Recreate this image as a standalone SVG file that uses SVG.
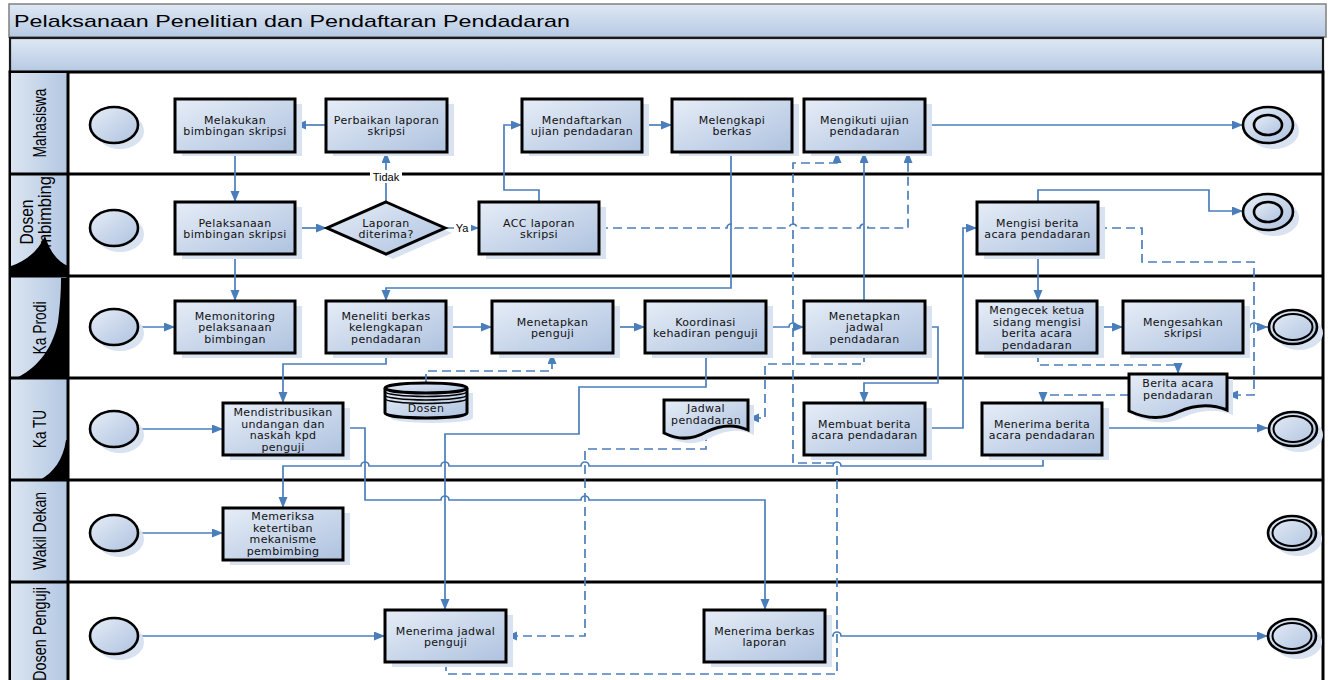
<svg xmlns="http://www.w3.org/2000/svg" width="1330" height="680" viewBox="0 0 1330 680">
<style>
.bar{stroke-width:1.5}
.box{fill:url(#gBox);stroke:#000;stroke-width:3}
.sh{fill:#d9e2f0}
.ev{fill:url(#gBox);stroke:#000;stroke-width:2.6}
.t{font-family:"DejaVu Sans",Verdana,sans-serif;font-size:11px;letter-spacing:0.35px;fill:#111;text-anchor:middle}
.lbl{font-family:"Liberation Sans",Arial,sans-serif;font-size:11px;fill:#000;text-anchor:middle}
.lane{font-family:"Liberation Sans",Arial,sans-serif;font-size:19px;fill:#000;text-anchor:middle}
.c{fill:none;stroke:#4a7ebb;stroke-width:1.7}
.d{fill:none;stroke:#4a7ebb;stroke-width:1.7;stroke-dasharray:9 5}
.art{fill:#000}
</style>
<defs>
<linearGradient id="gBox" x1="0" y1="0" x2="1" y2="1">
<stop offset="0" stop-color="#e6edf7"/><stop offset="1" stop-color="#aec2df"/>
</linearGradient>
<linearGradient id="gBar" x1="0" y1="0" x2="0" y2="1">
<stop offset="0" stop-color="#dfe8f4"/><stop offset="1" stop-color="#b6c9e3"/>
</linearGradient>
<linearGradient id="gHead" x1="0" y1="0" x2="1" y2="0">
<stop offset="0" stop-color="#dbe5f1"/><stop offset="1" stop-color="#b3c7e2"/>
</linearGradient>
<marker id="arr" markerUnits="userSpaceOnUse" markerWidth="12" markerHeight="10" refX="11" refY="4.5" orient="auto">
<path d="M0,0 L11,4.5 L0,9 Z" fill="#4a7ebb"/>
</marker>
<clipPath id="clipPb"><rect x="10" y="175" width="58" height="100"/></clipPath>
</defs>

<rect x="0" y="0" width="1330" height="680" fill="#fff"/>

<g id="pool">
<rect x="9" y="4" width="1317" height="33" fill="url(#gBar)" stroke="#808080" class="bar"/>
<text x="14" y="27" font-family="Liberation Sans, Arial, sans-serif" font-size="17" textLength="556" lengthAdjust="spacingAndGlyphs" fill="#000">Pelaksanaan Penelitian dan Pendaftaran Pendadaran</text>
<rect x="10" y="38" width="1313" height="34" fill="url(#gBar)" stroke="#1a1a1a" stroke-width="2.2"/>
</g>

<g id="lanes">
<rect x="10" y="72" width="1313" height="612" fill="#fff" stroke="#000" stroke-width="3"/>
<rect x="11" y="73" width="57" height="101" fill="url(#gHead)"/>
<rect x="11" y="175" width="57" height="101" fill="url(#gHead)"/>
<rect x="11" y="277" width="57" height="101" fill="url(#gHead)"/>
<rect x="11" y="379" width="57" height="101" fill="url(#gHead)"/>
<rect x="11" y="481" width="57" height="101" fill="url(#gHead)"/>
<rect x="11" y="583" width="57" height="100" fill="url(#gHead)"/>
<path class="art" d="M11,276 L11,266 C24,262 38,252 45,236 C50,252 58,262 68,266 L68,276 Z"/>
<path class="art" d="M61,278 L68,278 L68,378 L16,378 C34,370 52,352 58,322 C60,305 61,292 61,278 Z"/>
<path class="art" d="M68,440 L68,480 L40,480 C54,472 63,460 66,440 Z"/>
<g stroke="#000" stroke-width="3">
<line x1="10" y1="174" x2="1323" y2="174"/>
<line x1="10" y1="276" x2="1323" y2="276"/>
<line x1="10" y1="378" x2="1323" y2="378"/>
<line x1="10" y1="480" x2="1323" y2="480"/>
<line x1="10" y1="582" x2="1323" y2="582"/>
<line x1="68" y1="72" x2="68" y2="684"/>
</g>
<text class="lane" transform="translate(46,123) rotate(-90)" textLength="69" lengthAdjust="spacingAndGlyphs">Mahasiswa</text>
<g clip-path="url(#clipPb)">
<text class="lane" transform="translate(33,222) rotate(-90)" textLength="45" lengthAdjust="spacingAndGlyphs">Dosen</text>
<text class="lane" transform="translate(51,222) rotate(-90)" textLength="92" lengthAdjust="spacingAndGlyphs">Pembimbing</text>
</g>
<text class="lane" transform="translate(46,328) rotate(-90)" textLength="53" lengthAdjust="spacingAndGlyphs">Ka Prodi</text>
<text class="lane" transform="translate(46,429) rotate(-90)" textLength="38" lengthAdjust="spacingAndGlyphs">Ka TU</text>
<text class="lane" transform="translate(46,531) rotate(-90)" textLength="78" lengthAdjust="spacingAndGlyphs">Wakil Dekan</text>
<text class="lane" transform="translate(46,634) rotate(-90)" textLength="94" lengthAdjust="spacingAndGlyphs">Dosen Penguji</text>
</g>

<g id="connectors">
<path class="c" marker-end="url(#arr)" d="M326,125 H295"/>
<path class="c" marker-end="url(#arr)" d="M235,152 V202"/>
<path class="c" marker-end="url(#arr)" d="M295,228 H327"/>
<path class="c" marker-end="url(#arr)" d="M386,202 V152"/>
<path class="c" marker-end="url(#arr)" d="M445,228 H479"/>
<path class="c" marker-end="url(#arr)" d="M539,202 V190 H504 V125 H522"/>
<path class="c" marker-end="url(#arr)" d="M642,125 H672"/>
<path class="c" marker-end="url(#arr)" d="M731,152 V288 H386 V301"/>
<path class="c" marker-end="url(#arr)" d="M925,125 H1243"/>
<path class="c" marker-end="url(#arr)" d="M235,254 V301"/>
<path class="c" marker-end="url(#arr)" d="M138,327 H175"/>
<path class="c" marker-end="url(#arr)" d="M446,327 H492"/>
<path class="c" marker-end="url(#arr)" d="M613,327 H645"/>
<path class="c" marker-end="url(#arr)" d="M766,327 H789 a4,4 0 0 1 8,0 H804"/>
<path class="c" marker-end="url(#arr)" d="M864,301 V152"/>
<path class="c" marker-end="url(#arr)" d="M925,327 H938 V383 H864 V403"/>
<path class="c" marker-end="url(#arr)" d="M386,353 V364 H283 V403"/>
<path class="c" marker-end="url(#arr)" d="M706,353 V387 H579 V434 H445 V610"/>
<path class="c" marker-end="url(#arr)" d="M138,429 H223"/>
<path class="c" marker-end="url(#arr)" d="M343,428 H365 V500 H441 a4,4 0 0 1 8,0 H581 a4,4 0 0 1 8,0 H765 V610"/>
<path class="c" marker-end="url(#arr)" d="M925,428 H963 V228 H977"/>
<path class="c" marker-end="url(#arr)" d="M1038,202 V190 H1209 V211 H1243"/>
<path class="c" marker-end="url(#arr)" d="M1038,254 V301"/>
<path class="c" marker-end="url(#arr)" d="M1097,327 H1123"/>
<path class="c" marker-end="url(#arr)" d="M1243,327 H1250 a4,4 0 0 1 8,0 H1268"/>
<path class="c" marker-end="url(#arr)" d="M1102,428 H1268"/>
<path class="c" marker-end="url(#arr)" d="M1043,455 V466 H841 a4,4 0 0 0 -8,0 H589 a4,4 0 0 0 -8,0 H449 a4,4 0 0 0 -8,0 H369 a4,4 0 0 0 -8,0 H283 V508"/>
<path class="c" marker-end="url(#arr)" d="M138,533 H223"/>
<path class="c" marker-end="url(#arr)" d="M138,636 H385"/>
<path class="c" marker-end="url(#arr)" d="M825,636 H833 a4,4 0 0 1 8,0 H1268"/>
<path class="d" marker-end="url(#arr)" d="M599,228 H727 a4,4 0 0 1 8,0 H789 a4,4 0 0 1 8,0 H860 a4,4 0 0 1 8,0 H908 V152"/>
<path class="d" marker-end="url(#arr)" d="M446,662 V674 H837 V463 H793 V163 H837 V152"/>
<path class="d" marker-end="url(#arr)" d="M426,383 V371 H552 V353"/>
<path class="d" marker-end="url(#arr)" d="M864,353 V364 H765 V418 H748"/>
<path class="d" marker-end="url(#arr)" d="M706,432 V449 H585 V636 H506"/>
<path class="d" marker-end="url(#arr)" d="M1098,228 H1142 V262 H1254 V395 H1227"/>
<path class="d" marker-end="url(#arr)" d="M1038,353 V365 H1178 V374"/>
<path class="d" marker-end="url(#arr)" d="M1129,395 H1043 V403"/>
<rect x="370" y="170" width="32" height="13" fill="#fff"/>
<text class="lbl" x="386" y="181">Tidak</text>
<rect x="454" y="221" width="17" height="13" fill="#fff"/>
<text class="lbl" x="462" y="232">Ya</text>
</g>

<!-- start events -->
<g id="start_mhs"><ellipse class="sh" cx="120" cy="131" rx="24" ry="18"/><ellipse class="ev" cx="114" cy="125" rx="24" ry="18"/></g>
<g id="start_dp"><ellipse class="sh" cx="120" cy="234" rx="24" ry="18"/><ellipse class="ev" cx="114" cy="228" rx="24" ry="18"/></g>
<g id="start_kp"><ellipse class="sh" cx="120" cy="333" rx="24" ry="18"/><ellipse class="ev" cx="114" cy="327" rx="24" ry="18"/></g>
<g id="start_tu"><ellipse class="sh" cx="120" cy="435" rx="24" ry="18"/><ellipse class="ev" cx="114" cy="429" rx="24" ry="18"/></g>
<g id="start_wd"><ellipse class="sh" cx="120" cy="539" rx="24" ry="18"/><ellipse class="ev" cx="114" cy="533" rx="24" ry="18"/></g>
<g id="start_pj"><ellipse class="sh" cx="120" cy="642" rx="24" ry="18"/><ellipse class="ev" cx="114" cy="636" rx="24" ry="18"/></g>

<!-- end events -->
<g id="end_mhs"><ellipse class="sh" cx="1274" cy="131" rx="25" ry="18"/><ellipse class="ev" cx="1268" cy="125" rx="25" ry="18" stroke-width="3"/><ellipse class="ev" cx="1268" cy="125" rx="14" ry="10" stroke-width="3"/></g>
<g id="end_dp"><ellipse class="sh" cx="1274" cy="218" rx="25" ry="18"/><ellipse class="ev" cx="1268" cy="212" rx="25" ry="18" stroke-width="3"/><ellipse class="ev" cx="1268" cy="212" rx="14" ry="10" stroke-width="3"/></g>
<g id="end_kp"><ellipse class="sh" cx="1299" cy="333" rx="24" ry="17"/><ellipse class="ev" cx="1293" cy="327" rx="24" ry="17" stroke-width="3"/><ellipse cx="1293" cy="327" rx="19.5" ry="13" fill="none" stroke="#000" stroke-width="2"/></g>
<g id="end_tu"><ellipse class="sh" cx="1299" cy="435" rx="24" ry="17"/><ellipse class="ev" cx="1293" cy="429" rx="24" ry="17" stroke-width="3"/><ellipse cx="1293" cy="429" rx="19.5" ry="13" fill="none" stroke="#000" stroke-width="2"/></g>
<g id="end_wd"><ellipse class="sh" cx="1298" cy="539" rx="24" ry="17"/><ellipse class="ev" cx="1292" cy="533" rx="24" ry="17" stroke-width="3"/><ellipse cx="1292" cy="533" rx="19.5" ry="13" fill="none" stroke="#000" stroke-width="2"/></g>
<g id="end_pj"><ellipse class="sh" cx="1298" cy="642" rx="24" ry="17"/><ellipse class="ev" cx="1292" cy="636" rx="24" ry="17" stroke-width="3"/><ellipse cx="1292" cy="636" rx="19.5" ry="13" fill="none" stroke="#000" stroke-width="2"/></g>

<!-- Mahasiswa -->
<g id="n_melakukan"><rect class="sh" x="182" y="104" width="120" height="52"/><rect class="box" x="175" y="99" width="120" height="53"/><text class="t" x="235" y="123.5">Melakukan</text><text class="t" x="235" y="135">bimbingan skripsi</text></g>
<g id="n_perbaikan"><rect class="sh" x="333" y="104" width="121" height="52"/><rect class="box" x="326" y="99" width="121" height="53"/><text class="t" x="386.5" y="123.5">Perbaikan laporan</text><text class="t" x="386.5" y="135">skripsi</text></g>
<g id="n_mendaftarkan"><rect class="sh" x="529" y="104" width="120" height="52"/><rect class="box" x="522" y="99" width="120" height="53"/><text class="t" x="582" y="123.5">Mendaftarkan</text><text class="t" x="582" y="135">ujian pendadaran</text></g>
<g id="n_melengkapi"><rect class="sh" x="679" y="104" width="120" height="52"/><rect class="box" x="672" y="99" width="120" height="53"/><text class="t" x="732" y="123.5">Melengkapi</text><text class="t" x="732" y="135">berkas</text></g>
<g id="n_mengikuti"><rect class="sh" x="811" y="104" width="121" height="52"/><rect class="box" x="804" y="99" width="121" height="53"/><text class="t" x="864.5" y="123.5">Mengikuti ujian</text><text class="t" x="864.5" y="135">pendadaran</text></g>

<!-- Dosen Pembimbing -->
<g id="n_pelaksanaan"><rect class="sh" x="182" y="207" width="120" height="52"/><rect class="box" x="175" y="202" width="120" height="52"/><text class="t" x="235" y="226.5">Pelaksanaan</text><text class="t" x="235" y="238">bimbingan skripsi</text></g>
<g id="n_laporan"><polygon class="sh" points="393,207 452,233 393,259 334,233"/><polygon class="box" points="386,202 445,228 386,254 327,228"/><text class="t" x="386" y="226.5">Laporan</text><text class="t" x="386" y="238">diterima?</text></g>
<g id="n_acc"><rect class="sh" x="486" y="207" width="120" height="52"/><rect class="box" x="479" y="202" width="120" height="52"/><text class="t" x="539" y="226.5">ACC laporan</text><text class="t" x="539" y="238">skripsi</text></g>
<g id="n_mengisi"><rect class="sh" x="984" y="207" width="121" height="52"/><rect class="box" x="977" y="202" width="121" height="52"/><text class="t" x="1037.5" y="226.5">Mengisi berita</text><text class="t" x="1037.5" y="238">acara pendadaran</text></g>

<!-- Ka Prodi -->
<g id="n_memonitoring"><rect class="sh" x="182" y="306" width="120" height="52"/><rect class="box" x="175" y="301" width="120" height="52"/><text class="t" x="235" y="319.5">Memonitoring</text><text class="t" x="235" y="331">pelaksanaan</text><text class="t" x="235" y="342.5">bimbingan</text></g>
<g id="n_meneliti"><rect class="sh" x="333" y="306" width="120" height="52"/><rect class="box" x="326" y="301" width="120" height="52"/><text class="t" x="386" y="319.5">Meneliti berkas</text><text class="t" x="386" y="331">kelengkapan</text><text class="t" x="386" y="342.5">pendadaran</text></g>
<g id="n_menetapkan_penguji"><rect class="sh" x="499" y="306" width="121" height="52"/><rect class="box" x="492" y="301" width="121" height="52"/><text class="t" x="552.5" y="325.5">Menetapkan</text><text class="t" x="552.5" y="337">penguji</text></g>
<g id="n_koordinasi"><rect class="sh" x="652" y="306" width="121" height="52"/><rect class="box" x="645" y="301" width="121" height="52"/><text class="t" x="705.5" y="325.5">Koordinasi</text><text class="t" x="705.5" y="337">kehadiran penguji</text></g>
<g id="n_menetapkan_jadwal"><rect class="sh" x="811" y="306" width="121" height="52"/><rect class="box" x="804" y="301" width="121" height="52"/><text class="t" x="864.5" y="319.5">Menetapkan</text><text class="t" x="864.5" y="331">jadwal</text><text class="t" x="864.5" y="342.5">pendadaran</text></g>
<g id="n_mengecek"><rect class="sh" x="984" y="306" width="120" height="52"/><rect class="box" x="977" y="301" width="120" height="52"/><text class="t" x="1037" y="314">Mengecek ketua</text><text class="t" x="1037" y="325.5">sidang mengisi</text><text class="t" x="1037" y="337">berita acara</text><text class="t" x="1037" y="348.5">pendadaran</text></g>
<g id="n_mengesahkan"><rect class="sh" x="1130" y="306" width="120" height="52"/><rect class="box" x="1123" y="301" width="120" height="52"/><text class="t" x="1183" y="325.5">Mengesahkan</text><text class="t" x="1183" y="337">skripsi</text></g>

<!-- Ka TU -->
<g id="n_mendistribusikan"><rect class="sh" x="230" y="408" width="120" height="52"/><rect class="box" x="223" y="403" width="120" height="52"/><text class="t" x="283" y="416">Mendistribusikan</text><text class="t" x="283" y="427.5">undangan dan</text><text class="t" x="283" y="439">naskah kpd</text><text class="t" x="283" y="450.5">penguji</text></g>
<g id="n_dosen_db">
<path class="sh" d="M391,393 V418 A41,5 0 0 0 473,418 V393 Z"/>
<path class="box" d="M385,388 V413 A41,5 0 0 0 467,413 V388"/>
<ellipse class="box" cx="426" cy="388" rx="41" ry="5"/>
<path d="M385,391.5 A41,5 0 0 0 467,391.5 M385,395 A41,5 0 0 0 467,395 M385,398.5 A41,5 0 0 0 467,398.5" fill="none" stroke="#000" stroke-width="1.5"/>
<text class="t" x="426" y="412">Dosen</text>
</g>
<g id="n_jadwal_doc">
<path class="sh" d="M670,405 H754 V435 C741,429 728,429 712,437 C698,445 684,445 670,438 Z"/>
<path class="box" d="M664,400 H748 V430 C735,424 722,424 706,432 C692,440 678,440 664,433 Z"/>
<text class="t" x="706" y="412">Jadwal</text><text class="t" x="706" y="423.5">pendadaran</text>
</g>
<g id="n_membuat"><rect class="sh" x="811" y="408" width="121" height="52"/><rect class="box" x="804" y="403" width="121" height="52"/><text class="t" x="864.5" y="427.5">Membuat berita</text><text class="t" x="864.5" y="439">acara pendadaran</text></g>
<g id="n_menerima_berita"><rect class="sh" x="989" y="408" width="120" height="52"/><rect class="box" x="982" y="403" width="120" height="52"/><text class="t" x="1042" y="427.5">Menerima berita</text><text class="t" x="1042" y="439">acara pendadaran</text></g>
<g id="n_berita_doc">
<path class="sh" d="M1135,379 H1233 V415 C1218,409 1202,409 1184,417 C1168,425 1152,424 1135,416 Z"/>
<path class="box" d="M1129,374 H1227 V410 C1212,404 1196,404 1178,412 C1162,420 1146,419 1129,411 Z"/>
<text class="t" x="1178" y="387">Berita acara</text><text class="t" x="1178" y="398.5">pendadaran</text>
</g>

<!-- Wakil Dekan -->
<g id="n_memeriksa"><rect class="sh" x="230" y="513" width="120" height="52"/><rect class="box" x="223" y="508" width="120" height="52"/><text class="t" x="283" y="520">Memeriksa</text><text class="t" x="283" y="531.5">ketertiban</text><text class="t" x="283" y="543">mekanisme</text><text class="t" x="283" y="554.5">pembimbing</text></g>

<!-- Dosen Penguji -->
<g id="n_menerima_jadwal"><rect class="sh" x="392" y="615" width="121" height="52"/><rect class="box" x="385" y="610" width="121" height="52"/><text class="t" x="445.5" y="634.5">Menerima jadwal</text><text class="t" x="445.5" y="646">penguji</text></g>
<g id="n_menerima_berkas"><rect class="sh" x="711" y="615" width="121" height="52"/><rect class="box" x="704" y="610" width="121" height="52"/><text class="t" x="764.5" y="634.5">Menerima berkas</text><text class="t" x="764.5" y="646">laporan</text></g>
</svg>
